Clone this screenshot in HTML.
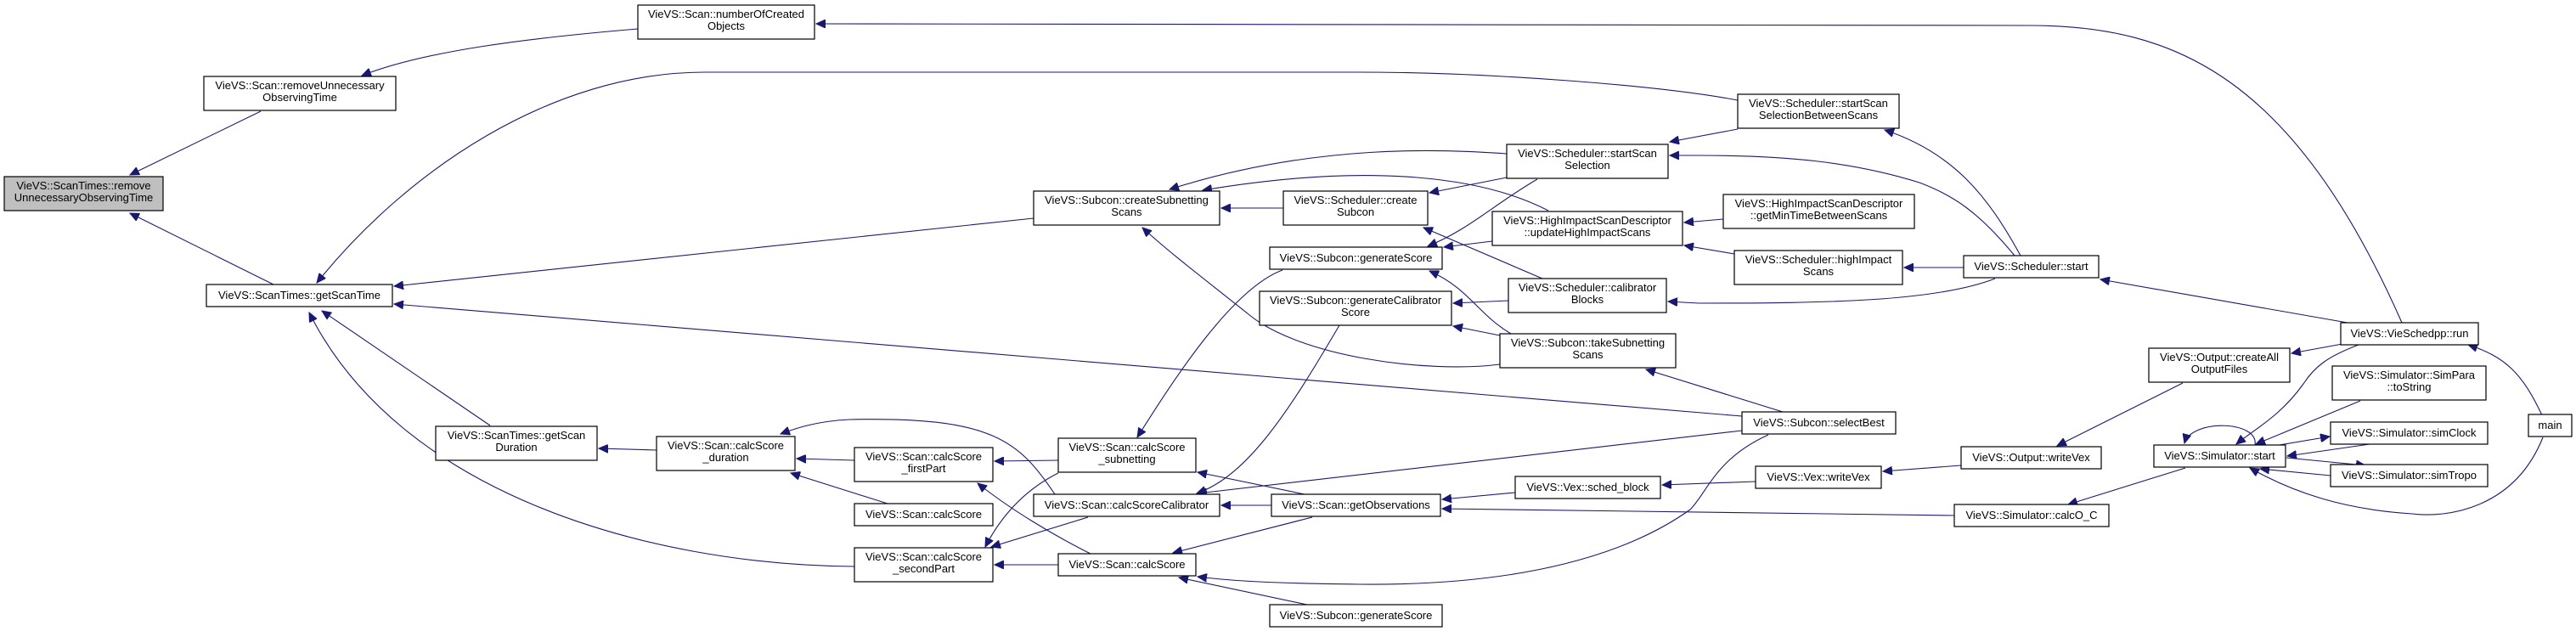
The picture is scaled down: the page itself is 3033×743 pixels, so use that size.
<!DOCTYPE html>
<html><head><meta charset="utf-8"><style>
html,body{margin:0;padding:0;background:#fff;}
svg{display:block;}
text{font-family:"Liberation Sans",Arial,sans-serif;font-size:13px;fill:#000;text-anchor:middle;}
.n{fill:#fff;stroke:#000;stroke-width:1.2;}
.g{fill:#bfbfbf;stroke:#000;stroke-width:1.2;}
path{fill:none;stroke:#191970;stroke-width:1.1;}
</style></head><body>
<svg width="3033" height="743" viewBox="0 0 3033 743" xmlns="http://www.w3.org/2000/svg">
<defs><marker id="a" markerUnits="userSpaceOnUse" markerWidth="12" markerHeight="10" refX="11" refY="5" orient="auto"><polygon points="0,0 11,5 0,10" fill="#191970" stroke="#191970"/></marker></defs>
<g marker-end="url(#a)">
<path d="M307,131 L153,206"/>
<path d="M322,335 L153,251"/>
<path d="M751,34 C620,45 500,60 426,89"/>
<path d="M2828,380 C2700,90 2560,30 2390,30 L961,28"/>
<path d="M2046,118 C1950,100 1750,85 1600,85 L830,85 C650,85 480,200 373,333"/>
<path d="M1217,257 L464,337"/>
<path d="M2051,490 L464,358"/>
<path d="M577,501 L379,366"/>
<path d="M1006,667 C760,665 470,580 364,368"/>
<path d="M773,530 L705,528"/>
<path d="M1242,582 C1200,520 1170,490 1000,494 C960,496 935,505 919,511"/>
<path d="M1006,542 L938,540"/>
<path d="M1045,593 L931,557"/>
<path d="M1246,542 L1171,543"/>
<path d="M1284,652 C1240,630 1190,600 1151,569"/>
<path d="M1246,557 C1200,580 1175,615 1160,644"/>
<path d="M1281,609 L1167,644"/>
<path d="M1246,665 L1171,665"/>
<path d="M1510,318 C1450,340 1380,450 1339,515"/>
<path d="M1577,383 C1520,480 1470,560 1409,581"/>
<path d="M1497,595 L1438,595"/>
<path d="M1536,582 L1410,556"/>
<path d="M2051,507 L1410,581"/>
<path d="M1545,609 L1381,651"/>
<path d="M1539,712 L1388,680"/>
<path d="M2082,512 C2020,540 2010,580 1990,600 C1920,650 1800,690 1600,688 C1500,687 1450,684 1410,679"/>
<path d="M1784,580 L1698,588"/>
<path d="M2301,607 L1698,599"/>
<path d="M2067,567 L1957,571"/>
<path d="M2309,548 L2217,555"/>
<path d="M2570,451 L2422,525"/>
<path d="M2758,405 L2698,416"/>
<path d="M2573,551 L2435,594"/>
<path d="M2655,524 C2660,495 2580,493 2572,522"/>
<path d="M2777,406 C2740,420 2725,432 2712,452 C2685,490 2655,505 2633,523"/>
<path d="M2779,472 L2656,523"/>
<path d="M2660,528 L2743,514"/>
<path d="M2790,523 L2693,537"/>
<path d="M2692,539 L2785,548"/>
<path d="M2744,560 L2661,552"/>
<path d="M2994,515 C2960,600 2880,610 2840,605 C2760,600 2700,580 2649,551"/>
<path d="M2993,489 C2970,440 2950,420 2906,406"/>
<path d="M2764,380 L2473,329"/>
<path d="M2379,301 C2340,230 2300,180 2219,153"/>
<path d="M2372,301 C2330,250 2300,230 2260,215 C2180,190 2100,183 2000,183 L1966,183"/>
<path d="M2312,315 L2242,315"/>
<path d="M2349,328 C2280,355 2150,357 2000,357 L1964,355"/>
<path d="M2046,152 L1966,167"/>
<path d="M2029,258 L1983,262"/>
<path d="M2042,299 L1983,289"/>
<path d="M1774,181 C1700,176 1550,168 1377,223"/>
<path d="M1823,248 C1750,210 1620,190 1416,224"/>
<path d="M1511,245 L1438,245"/>
<path d="M1766,429 C1680,440 1530,420 1470,370 C1420,330 1380,300 1345,268"/>
<path d="M1774,209 L1683,227"/>
<path d="M1810,211 C1760,240 1730,270 1681,290"/>
<path d="M1757,284 L1700,291"/>
<path d="M1816,328 L1676,268"/>
<path d="M1776,354 L1711,357"/>
<path d="M1779,393 C1740,370 1730,340 1683,319"/>
<path d="M1766,395 L1711,384"/>
<path d="M2099,485 L1938,435"/>
</g>
<g>
<rect class="g" x="5" y="208" width="187" height="40"/><text x="98.5" y="223">VieVS::ScanTimes::remove</text><text x="98.5" y="237">UnnecessaryObservingTime</text>
<rect class="n" x="751" y="6" width="208" height="40"/><text x="855" y="21">VieVS::Scan::numberOfCreated</text><text x="855" y="35">Objects</text>
<rect class="n" x="240" y="90" width="226" height="40"/><text x="353" y="105">VieVS::Scan::removeUnnecessary</text><text x="353" y="119">ObservingTime</text>
<rect class="n" x="243" y="335" width="219" height="26"/><text x="352.5" y="352">VieVS::ScanTimes::getScanTime</text>
<rect class="n" x="513" y="502" width="190" height="40"/><text x="608" y="517">VieVS::ScanTimes::getScan</text><text x="608" y="531">Duration</text>
<rect class="n" x="773" y="514" width="163" height="40"/><text x="854.5" y="529">VieVS::Scan::calcScore</text><text x="854.5" y="543">_duration</text>
<rect class="n" x="1217" y="225" width="219" height="40"/><text x="1326.5" y="240">VieVS::Subcon::createSubnetting</text><text x="1326.5" y="254">Scans</text>
<rect class="n" x="1511" y="225" width="170" height="40"/><text x="1596" y="240">VieVS::Scheduler::create</text><text x="1596" y="254">Subcon</text>
<rect class="n" x="1774" y="170" width="190" height="40"/><text x="1869" y="185">VieVS::Scheduler::startScan</text><text x="1869" y="199">Selection</text>
<rect class="n" x="1757" y="249" width="224" height="40"/><text x="1869" y="264">VieVS::HighImpactScanDescriptor</text><text x="1869" y="278">::updateHighImpactScans</text>
<rect class="n" x="1495" y="291" width="203" height="26"/><text x="1596.5" y="308">VieVS::Subcon::generateScore</text>
<rect class="n" x="1483" y="343" width="226" height="40"/><text x="1596" y="358">VieVS::Subcon::generateCalibrator</text><text x="1596" y="372">Score</text>
<rect class="n" x="1776" y="328" width="186" height="40"/><text x="1869" y="343">VieVS::Scheduler::calibrator</text><text x="1869" y="357">Blocks</text>
<rect class="n" x="1766" y="393" width="207" height="40"/><text x="1869.5" y="408">VieVS::Subcon::takeSubnetting</text><text x="1869.5" y="422">Scans</text>
<rect class="n" x="1246" y="516" width="162" height="40"/><text x="1327" y="531">VieVS::Scan::calcScore</text><text x="1327" y="545">_subnetting</text>
<rect class="n" x="1006" y="527" width="163" height="40"/><text x="1087.5" y="542">VieVS::Scan::calcScore</text><text x="1087.5" y="556">_firstPart</text>
<rect class="n" x="1006" y="593" width="163" height="26"/><text x="1087.5" y="610">VieVS::Scan::calcScore</text>
<rect class="n" x="1006" y="645" width="163" height="40"/><text x="1087.5" y="660">VieVS::Scan::calcScore</text><text x="1087.5" y="674">_secondPart</text>
<rect class="n" x="1217" y="582" width="219" height="26"/><text x="1326.5" y="599">VieVS::Scan::calcScoreCalibrator</text>
<rect class="n" x="1497" y="582" width="199" height="26"/><text x="1596.5" y="599">VieVS::Scan::getObservations</text>
<rect class="n" x="1246" y="652" width="162" height="26"/><text x="1327" y="669">VieVS::Scan::calcScore</text>
<rect class="n" x="1495" y="712" width="203" height="26"/><text x="1596.5" y="729">VieVS::Subcon::generateScore</text>
<rect class="n" x="1784" y="561" width="171" height="26"/><text x="1869.5" y="578">VieVS::Vex::sched_block</text>
<rect class="n" x="2046" y="111" width="190" height="40"/><text x="2141" y="126">VieVS::Scheduler::startScan</text><text x="2141" y="140">SelectionBetweenScans</text>
<rect class="n" x="2029" y="229" width="225" height="40"/><text x="2141.5" y="244">VieVS::HighImpactScanDescriptor</text><text x="2141.5" y="258">::getMinTimeBetweenScans</text>
<rect class="n" x="2042" y="295" width="198" height="40"/><text x="2141" y="310">VieVS::Scheduler::highImpact</text><text x="2141" y="324">Scans</text>
<rect class="n" x="2312" y="301" width="159" height="26"/><text x="2391.5" y="318">VieVS::Scheduler::start</text>
<rect class="n" x="2756" y="380" width="162" height="26"/><text x="2837" y="397">VieVS::VieSchedpp::run</text>
<rect class="n" x="2530" y="410" width="166" height="40"/><text x="2613" y="425">VieVS::Output::createAll</text><text x="2613" y="439">OutputFiles</text>
<rect class="n" x="2746" y="431" width="181" height="40"/><text x="2836.5" y="446">VieVS::Simulator::SimPara</text><text x="2836.5" y="460">::toString</text>
<rect class="n" x="2977" y="488" width="51" height="26"/><text x="3002.5" y="505">main</text>
<rect class="n" x="2051" y="485" width="181" height="26"/><text x="2141.5" y="502">VieVS::Subcon::selectBest</text>
<rect class="n" x="2309" y="526" width="165" height="26"/><text x="2391.5" y="543">VieVS::Output::writeVex</text>
<rect class="n" x="2744" y="497" width="185" height="26"/><text x="2836.5" y="514">VieVS::Simulator::simClock</text>
<rect class="n" x="2536" y="524" width="155" height="26"/><text x="2613.5" y="541">VieVS::Simulator::start</text>
<rect class="n" x="2067" y="549" width="148" height="26"/><text x="2141" y="566">VieVS::Vex::writeVex</text>
<rect class="n" x="2744" y="547" width="185" height="26"/><text x="2836.5" y="564">VieVS::Simulator::simTropo</text>
<rect class="n" x="2301" y="594" width="182" height="26"/><text x="2392" y="611">VieVS::Simulator::calcO_C</text>
</g>
</svg>
</body></html>
